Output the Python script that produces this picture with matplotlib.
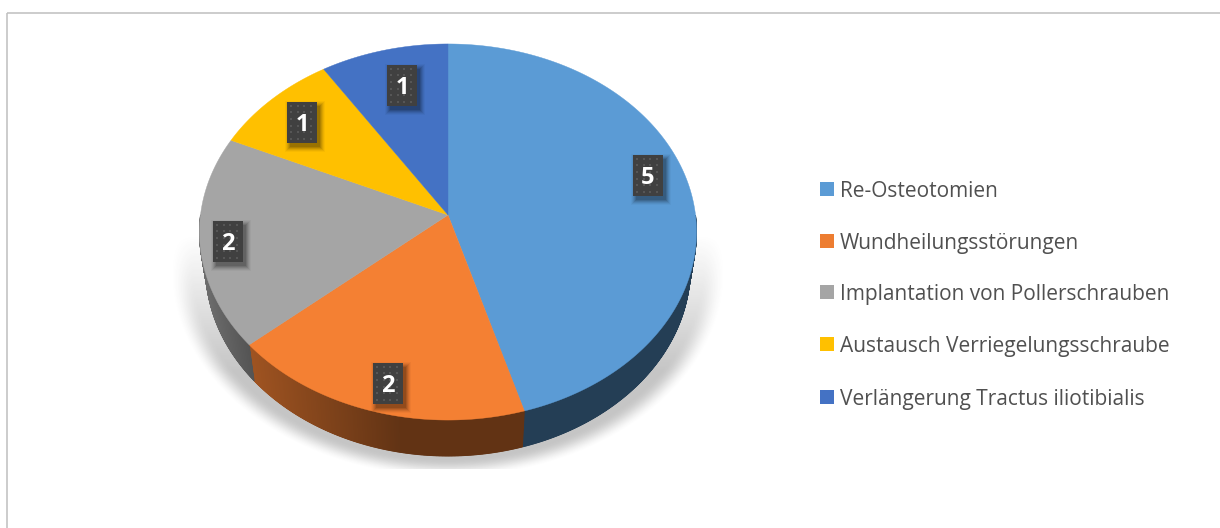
#!/usr/bin/python
# -*- coding: utf-8 -*-
'''
3d looking pie chart, drawn by hand because matplotlib has no perspective pie
'''
import matplotlib
matplotlib.use('Agg')
import matplotlib.pyplot as plt
from matplotlib.patches import Rectangle
import numpy as np

categories = ['Re-Osteotomien', 'Wundheilungsstörungen',
              'Implantation von Pollerschrauben', 'Austausch Verriegelungsschraube',
              'Verlängerung Tractus iliotibialis']
values = [5, 2, 2, 1, 1]
colors = ['#5b9bd5', '#f48033', '#a5a5a5', '#ffc000', '#4472c4']
legend_colors = ['#5b9bd5', '#ed7d31', '#a5a5a5', '#ffc000', '#4472c4']

# pixel layout of the picture
CX, CY = 448.0, 215.0
RX, RY = 247.5, 186.5
PERSP = 0.0904
DEPTH = 36.0
SHRINK = 0.975
label_pos = [(648, 175), (388, 383), (228, 241), (302, 122), (402, 85)]
legend_y = [189, 241, 292, 344, 397]

# wall shading per wedge: (x left, x right, factor left, factor right)
wall_shade = [(524, 700, 0.40, 0.40), (250, 400, 0.65, 0.40), (205, 252, 0.65, 0.50),
              (205, 252, 0.5, 0.5), (205, 252, 0.5, 0.5)]


def project(theta):
    """theta clockwise from the back of the disc, gives picture x and y"""
    s, c = np.sin(theta), np.cos(theta)
    d = 1.0 + PERSP*c
    return CX + RX*s/d, CY - RY*c/d


def draw_shadow(ax):
    x, y = np.meshgrid(np.arange(170, 730) + 0.5, np.arange(230, 469) + 0.5)
    r = np.sqrt(((x - CX)/250.0)**2 + ((y - 268.0)/188.0)**2)
    edge = np.clip((1.115 - r)/0.10, 0, 1)
    edge = edge*edge*(3 - 2*edge)
    ramp = np.clip((y - 235.0)/135.0, 0, 1)
    img = np.zeros(x.shape + (4,))
    img[..., :3] = 0.25
    img[..., 3] = 0.30*edge*ramp
    ax.imshow(img, extent=(170, 730, 469, 230), aspect='auto', zorder=1, interpolation='bilinear')


def draw_pie(ax):
    edges = np.cumsum([0] + values)/float(sum(values))*2*np.pi
    # walls first, only the front part of the rim can show
    for i in range(len(values)):
        t = np.linspace(edges[i], edges[i+1], int(200*values[i]) + 2)
        x, y = project(t)
        xl = CX + (x - CX)*SHRINK
        yl = y + DEPTH
        x0, x1, f0, f1 = wall_shade[i]
        base = np.array(matplotlib.colors.to_rgb(colors[i]))
        for j in range(len(t) - 1):
            if np.cos(t[j]) > 0.0:
                continue
            f = np.interp(0.5*(x[j] + x[j+1]), [x0, x1], [f0, f1])
            ax.fill([x[j], x[j+1], xl[j+1], xl[j]], [y[j], y[j+1], yl[j+1], yl[j]],
                    color=base*f, lw=0.6, zorder=2)
    for i in range(len(values)):
        t = np.linspace(edges[i], edges[i+1], int(200*values[i]) + 2)
        x, y = project(t)
        ax.fill(np.r_[CX, x], np.r_[CY, y], color=colors[i], lw=0.3, zorder=3)


def draw_label(ax, xc, yc, text):
    w, h = 30, 41
    for grow, a in zip([5, 4, 3, 2, 1, 0], [0.03, 0.05, 0.07, 0.09, 0.11, 0.12]):
        ax.add_patch(Rectangle((xc - w/2.0 + 3 - grow, yc - h/2.0 + 4 - grow), w + 2*grow, h + 2*grow,
                               fc='k', ec='none', alpha=a, zorder=4))
    ax.add_patch(Rectangle((xc - w/2.0, yc - h/2.0), w, h, fc='#404040', ec='none', zorder=5))
    dx = np.arange(xc - w/2.0 + 4, xc + w/2.0 - 1, 6.7)
    dy = np.arange(yc - h/2.0 + 4, yc + h/2.0 - 1, 6.7)
    gx, gy = np.meshgrid(dx, dy)
    ax.scatter(gx.ravel(), gy.ravel(), s=2.5, marker='s', c='#565656', lw=0, zorder=6)
    ax.text(xc, yc, text, color='white', fontsize=17, fontweight='bold', family='Open Sans',
            ha='center', va='center_baseline', zorder=7)


fig = plt.figure(figsize=(12.2, 5.28), dpi=100)
ax = fig.add_axes([0, 0, 1, 1])

draw_shadow(ax)
draw_pie(ax)
for i in range(len(values)):
    draw_label(ax, label_pos[i][0], label_pos[i][1], str(values[i]))

for i in range(len(categories)):
    ax.add_patch(Rectangle((820, legend_y[i] - 7), 14, 14, fc=legend_colors[i], ec='none', zorder=3))
    ax.text(840, legend_y[i], categories[i], color='#505050', fontsize=15, family='Open Sans',
            ha='left', va='center_baseline', zorder=3)

# chart frame, only top and left are inside the crop
ax.plot([6.5, 1220], [12.7, 12.7], color='#bfbfbf', lw=1.1, zorder=1, solid_capstyle='butt')
ax.plot([6.5, 6.5], [12.7, 528], color='#bfbfbf', lw=1.1, zorder=1, solid_capstyle='butt')

ax.set_xlim(0, 1220)
ax.set_ylim(528, 0)
ax.axis('off')
fig.savefig('out.png', dpi=100)
